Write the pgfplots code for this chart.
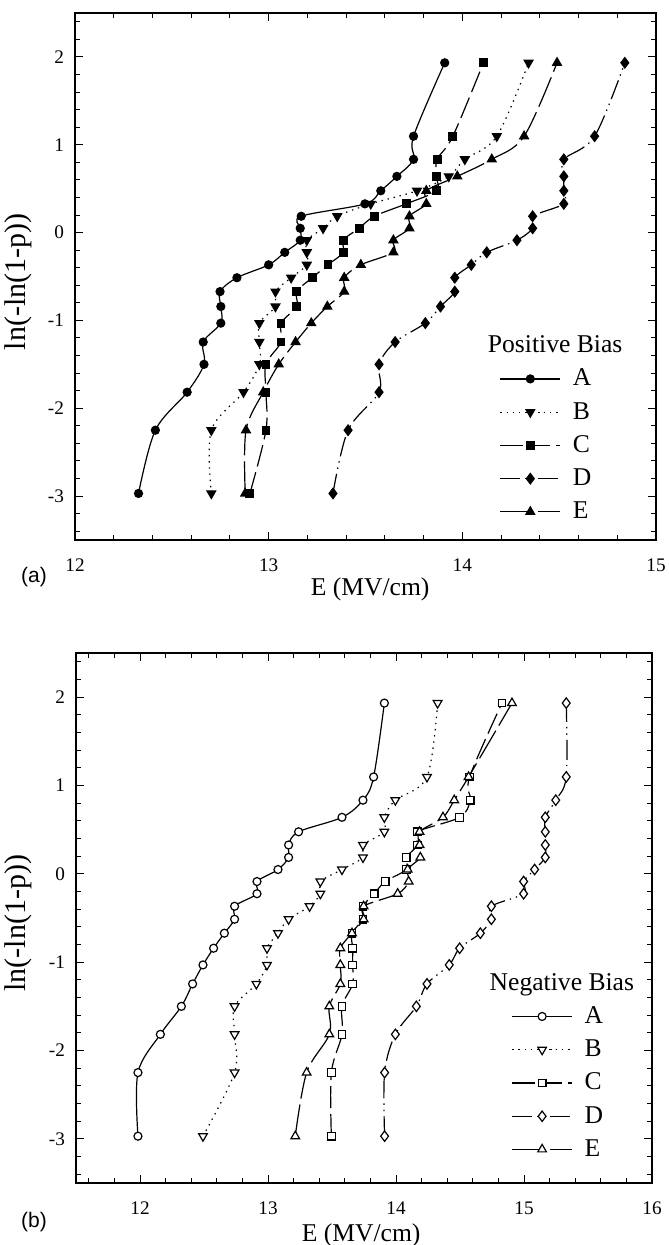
\documentclass[border=0pt]{standalone}
\usepackage{fontspec}
\setmainfont{Liberation Serif}
\newfontfamily\panelfont{Liberation Sans}
\usepackage{pgfplots}
\usepackage{pgfplotstable}
\pgfplotsset{compat=1.18}

% y = ln(-ln(1-p)), p = 0.05 ... 0.95, 0.999 ; columns = E (MV/cm) of samples A-E
\pgfplotstableread{
y      A      B      C      D      E
-2.970 12.328 12.704 12.903 13.332 12.879
-2.250 12.415 12.704 12.986 13.410 12.883
-1.817 12.579 12.870 12.986 13.570 12.972
-1.500 12.666 12.952 12.986 13.570 13.052
-1.246 12.662 12.952 13.064 13.653 13.139
-1.031 12.753 12.952 13.064 13.809 13.220
-0.842 12.753 13.035 13.145 13.887 13.303
-0.672 12.749 13.035 13.145 13.961 13.390
-0.514 12.836 13.116 13.225 13.961 13.390
-0.367 13.000 13.197 13.306 14.046 13.476
-0.225 13.083 13.197 13.385 14.126 13.644
-0.087 13.163 13.197 13.385 14.282 13.644
0.049  13.163 13.281 13.467 14.363 13.727
0.186  13.168 13.354 13.546 14.363 13.727
0.327  13.497 13.527 13.710 14.524 13.814
0.476  13.579 13.766 13.866 14.524 13.814
0.640  13.662 13.930 13.866 14.524 13.974
0.834  13.748 14.013 13.870 14.524 14.152
1.097  13.748 14.178 13.951 14.683 14.319
1.933  13.909 14.342 14.109 14.839 14.489
}\datapos

\pgfplotstableread{
y      A      B      C      D      E
-2.970 11.984 12.492 13.495 13.911 13.213
-2.250 11.984 12.739 13.495 13.911 13.302
-1.817 12.159 12.739 13.578 13.995 13.479
-1.500 12.323 12.739 13.578 14.159 13.479
-1.246 12.411 12.909 13.661 14.242 13.565
-1.031 12.492 12.992 13.661 14.416 13.565
-0.842 12.575 12.992 13.661 14.497 13.565
-0.672 12.659 13.078 13.656 14.659 13.656
-0.514 12.739 13.161 13.742 14.745 13.747
-0.367 12.739 13.325 13.742 14.745 13.747
-0.225 12.914 13.409 13.830 14.997 14.013
-0.087 12.914 13.409 13.916 14.997 14.099
0.049  13.078 13.578 14.080 15.083 14.091
0.186  13.161 13.742 14.080 15.166 14.190
0.327  13.161 13.742 14.169 15.166 14.184
0.476  13.239 13.909 14.169 15.166 14.184
0.640  13.578 13.909 14.497 15.166 14.367
0.834  13.742 13.995 14.580 15.248 14.455
1.097  13.825 14.242 14.575 15.330 14.567
1.933  13.909 14.325 14.828 15.330 14.906
}\dataneg

\pgfplotsset{
  weib/.style={
    scale only axis,
    axis line style={line width=0.9pt},
    tick align=inside,
    major tick length=4pt, minor tick length=2.5pt,
    tick style={black, line width=0.5pt},
    ymin=-3.5, ymax=2.5, ytick={-3,...,2},
    minor ytick={-3.4,-3.2,...,2.4},
    /pgf/number format/assume math mode=true,
    tick label style={font=\fontsize{9.6}{11}\selectfont},
    x tick label style={yshift=-6pt},
    y tick label style={xshift=-2pt},
    label style={font=\fontsize{12.8}{14}\selectfont},
    ylabel style={font=\fontsize{15}{17}\selectfont},
    xlabel={E (MV/cm)},
    ylabel={ln(-ln(1-p))},
    legend cell align=left,
    legend image code/.code={\draw[mark repeat=2,mark phase=2,##1] plot coordinates {(0pt,0pt) (15pt,0pt) (30pt,0pt)};},
    legend style={draw=none, fill=none, font=\fontsize{12.8}{14}\selectfont,
      row sep=4.7pt, column sep=5pt, nodes={inner sep=1pt}, anchor=north west},
  },
  ser/.style={black, line width=0.6pt, smooth, tension=0.55},
  dA/.style={solid},
  dB/.style={dash pattern=on 0.7pt off 2.4pt},
  dC/.style={dash pattern=on 11pt off 3pt},
  dD/.style={dash pattern=on 10pt off 2.5pt on 0.7pt off 2.5pt on 0.7pt off 2.5pt},
  dE/.style={dash pattern=on 16pt off 3pt},
}

\begin{document}
\begin{tikzpicture}
\path[use as bounding box] (0,0) rectangle (334pt,-622.5pt);

\begin{axis}[weib, at={(37.5pt,-270pt)}, anchor=south west,
  width=290.5pt, height=263.5pt,
  xmin=12, xmax=15, xtick={12,13,14,15},
  minor xtick={12.2,12.4,...,14.8},
  xlabel style={at={(axis description cs:0.508,0)}, anchor=center, yshift=-24.5pt},
  ylabel style={at={(axis description cs:-0.098,0.49)}, anchor=center},
  legend style={at={(axis description cs:0.720,0.40)}}]
\addlegendimage{empty legend}
\addlegendentry{\hspace{-42.5pt}Positive Bias}
\addplot[ser, dA, mark=*, mark size=2pt, mark options={solid}] table[x=A, y=y] {\datapos};
\addlegendentry{A}
\addplot[ser, dB, mark=triangle*, mark size=2.5pt, mark options={solid, rotate=180}] table[x=B, y=y] {\datapos};
\addlegendentry{B}
\addplot[ser, dC, mark=square*, mark size=1.9pt, mark options={solid}] table[x=C, y=y] {\datapos};
\addlegendentry{C}
\addplot[ser, dD, mark=diamond*, mark size=2.6pt, mark options={solid}] table[x=D, y=y] {\datapos};
\addlegendentry{D}
\addplot[ser, dE, mark=triangle*, mark size=2.5pt, mark options={solid}] table[x=E, y=y] {\datapos};
\addlegendentry{E}
\end{axis}

\begin{axis}[weib, at={(38pt,-591.5pt)}, anchor=south west,
  width=288pt, height=265pt,
  xmin=11.5, xmax=16, xtick={12,13,14,15,16},
  minor xtick={11.6,11.8,...,15.8},
  xlabel style={at={(axis description cs:0.495,0)}, anchor=center, yshift=-26pt},
  ylabel style={at={(axis description cs:-0.1007,0.49)}, anchor=center},
  legend style={at={(axis description cs:0.745,0.408)}}]
\addlegendimage{empty legend}
\addlegendentry{\hspace{-47.5pt}Negative Bias}
\addplot[ser, dA, mark=*, mark size=2pt, mark options={solid, fill=white}] table[x=A, y=y] {\dataneg};
\addlegendentry{A}
\addplot[ser, dB, mark=triangle*, mark size=2.5pt, mark options={solid, fill=white, rotate=180}] table[x=B, y=y] {\dataneg};
\addlegendentry{B}
\addplot[ser, dC, mark=square*, mark size=1.9pt, mark options={solid, fill=white}] table[x=C, y=y] {\dataneg};
\addlegendentry{C}
\addplot[ser, dD, mark=diamond*, mark size=2.6pt, mark options={solid, fill=white}] table[x=D, y=y] {\dataneg};
\addlegendentry{D}
\addplot[ser, dE, mark=triangle*, mark size=2.5pt, mark options={solid, fill=white}] table[x=E, y=y] {\dataneg};
\addlegendentry{E}
\end{axis}

\node[font=\panelfont\fontsize{10.5}{12}\selectfont] at (17pt,-288.5pt) {(a)};
\node[font=\panelfont\fontsize{10.5}{12}\selectfont] at (17pt,-611pt) {(b)};
\end{tikzpicture}
\end{document}
